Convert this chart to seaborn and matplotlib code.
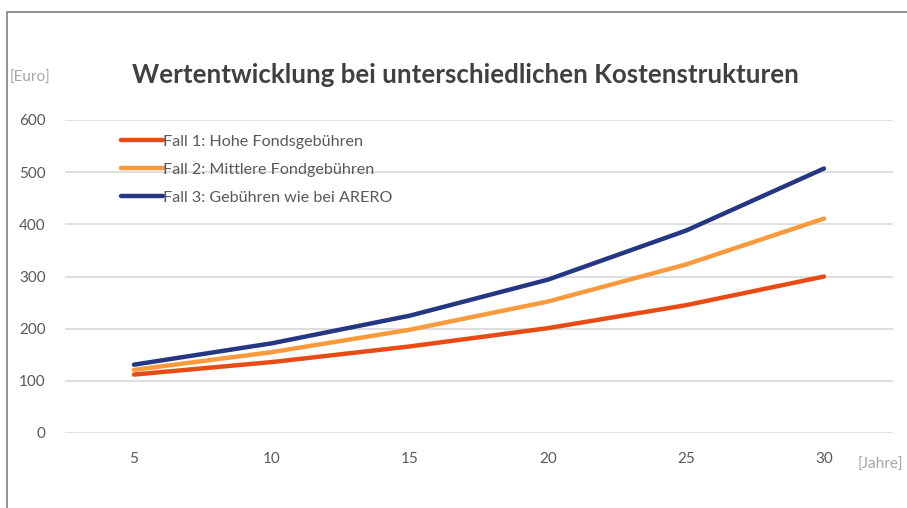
import pandas as pd
import matplotlib.pyplot as plt
import seaborn as sns
from matplotlib.patches import Rectangle

# ==================== data ====================
jahre = [5, 10, 15, 20, 25, 30]
fall1 = [112, 136, 166, 201, 245, 300]
fall2 = [121, 155, 198, 252, 323, 411]
fall3 = [131, 172, 225, 294, 388, 507]
labels = ["Fall 1: Hohe Fondsgebühren",
          "Fall 2: Mittlere Fondgebühren",
          "Fall 3: Gebühren wie bei ARERO"]
colors = ["#E84C14", "#F99A3C", "#243782"]

df = pd.concat([
    pd.DataFrame({"jahr": jahre, "wert": vals, "fall": lab})
    for vals, lab in zip([fall1, fall2, fall3], labels)
])

# ==================== style ====================
sns.set_style("white")
plt.rcParams['font.family'] = ['Lato', 'DejaVu Sans']
text_grey = "#595959"
light_grey = "#A6A6A6"

fig = plt.figure(figsize=(9.07, 5.08), dpi=100)
fig.patches.append(Rectangle((7 / 907, -0.1), 1.2, 1 - 12 / 508 + 0.1,
                             transform=fig.transFigure, fill=False,
                             edgecolor="#7F7F7F", linewidth=1.2))
ax = fig.add_axes([65 / 907, 1 - 433 / 508, (893 - 65) / 907, (433 - 120) / 508])

sns.lineplot(data=df, x="jahr", y="wert", hue="fall", palette=colors,
             linewidth=3.2, ax=ax, legend=True)

ax.set_xlim(2.5, 32.5)
ax.set_ylim(0, 600)
ax.set_xticks(jahre)
ax.set_yticks(range(0, 601, 100))
ax.yaxis.grid(True, color="#D9D9D9", linewidth=1.2)
ax.set_axisbelow(True)
for s in ax.spines.values():
    s.set_visible(False)
ax.tick_params(axis="y", length=0, pad=14, labelsize=11, labelcolor=text_grey)
ax.tick_params(axis="x", length=0, pad=14, labelsize=11, labelcolor=text_grey)
ax.set_xlabel("")
ax.set_ylabel("")

leg = ax.legend(loc="upper left", bbox_to_anchor=(0.05, 1.0), frameon=False,
                fontsize=11.6, handlelength=2.6, handletextpad=0.0,
                labelspacing=0.85)
for t in leg.get_texts():
    t.set_color(text_grey)
for h in leg.get_lines():
    h.set_linewidth(3.2)

fig.text(465 / 907, 1 - 75 / 508, "Wertentwicklung bei unterschiedlichen Kostenstrukturen",
         ha="center", va="center", fontsize=18.6, fontweight="bold", color="#404040")
fig.text(30 / 907, 1 - 78 / 508, "[Euro]", ha="center", va="center",
         fontsize=11, color=light_grey)
fig.text(880 / 907, 1 - 465 / 508, "[Jahre]", ha="center", va="center",
         fontsize=11, color=light_grey)

fig.savefig("out.png", dpi=100)
